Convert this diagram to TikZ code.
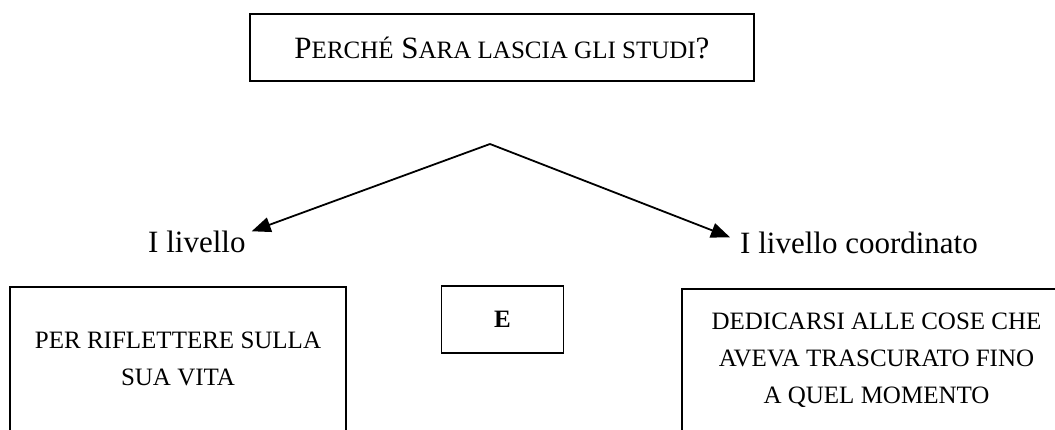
\documentclass[tikz,border=0pt]{standalone}
\usepackage{fontspec}
\setmainfont{Liberation Serif}
\usetikzlibrary{arrows.meta}
\usetikzlibrary{positioning}
\tikzstyle{box}=[draw,rectangle,line width=1.6pt,align=center,inner sep=0pt]
\newcommand{\piccolo}[1]{{\fontsize{25}{30}\selectfont #1}}

\begin{document}
\begin{tikzpicture}[x=1pt,y=-1pt,>={Triangle[length=19pt,width=15pt]},
  freccia/.style={->,line width=1.8pt},
  livello/.style={inner sep=0pt,font=\fontsize{31}{37}\selectfont},
  testo/.style={font=\fontsize{25}{37}\selectfont}]
\useasboundingbox (0,0) rectangle (1055,430);
\clip (0,0) rectangle (1055,430);
\node [box,minimum width=504pt,minimum height=67pt,font=\fontsize{31}{37}\selectfont] (domanda) at (502,47.5)
  {P\piccolo{ERCHÉ} S\piccolo{ARA LASCIA GLI STUDI}?};
\coordinate (vertice) at (490,144);
\node [livello,anchor=base west] (primo) at (148,253) {I livello};
\node [livello,anchor=base west] (coordinato) at (740,254) {I livello coordinato};
\draw [freccia] (vertice) -- ([xshift=6pt]primo.north east);
\draw [freccia] (vertice) -- ([xshift=-10pt,yshift=-5pt]coordinato.north west);
% riquadri in basso
\node [box,testo,minimum width=336pt,minimum height=145pt,anchor=north] (sinistra) at (178,286)
  {PER RIFLETTERE SULLA\\SUA VITA};
\node [box,testo,minimum width=122pt,minimum height=67pt] (e) at (502.5,319.5) {\textbf{E}};
\node [box,testo,minimum width=389pt,minimum height=143pt,anchor=north] (destra) at (876.5,288)
  {DEDICARSI ALLE COSE CHE\\AVEVA TRASCURATO FINO\\A QUEL MOMENTO};
\end{tikzpicture}
\end{document}
